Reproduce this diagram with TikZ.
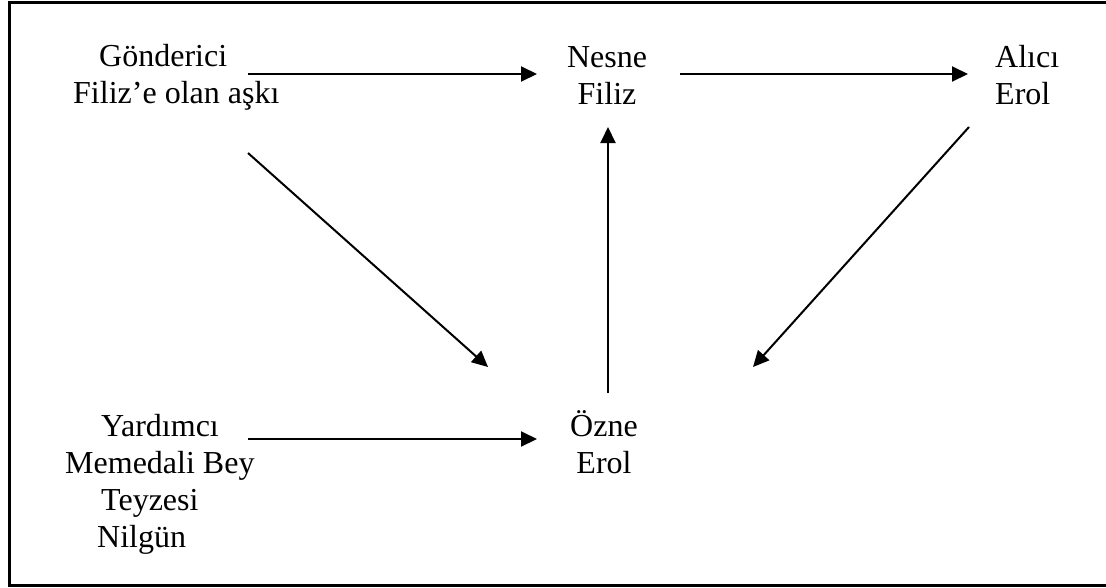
\documentclass[tikz,border=0pt]{standalone}
\usepackage{fontspec}
\setmainfont{Liberation Serif}
\usetikzlibrary{arrows.meta}

\tikzset{
  role/.style={inner sep=0pt, align=center, anchor=base,
    font=\fontsize{32}{37}\selectfont},
  leftrole/.style={role, align=left, anchor=base west},
  arr/.style={-{Triangle[length=16pt,width=15pt]}, line width=2pt}
}

\begin{document}
\begin{tikzpicture}[x=1pt,y=-1pt]
  \useasboundingbox (0,0) rectangle (1106,587);
  % frame, open on the right
  \draw[line width=3pt] (1120,2) -- (9,2) -- (9,585) -- (1120,585);

  % roles (base = last line)
  \node[leftrole] (gonderici) at (73,103) {\hspace*{26pt}Gönderici\\Filiz’e olan aşkı};
  \node[role] (nesne) at (607,104) {Nesne\\Filiz};
  \node[leftrole] (alici) at (995,104) {Alıcı\\Erol};
  \node[role] (ozne) at (604,473) {Özne\\Erol};
  \node[leftrole] (yardimci) at (65,547)
    {\hspace*{36pt}Yardımcı\\Memedali Bey\\\hspace*{36pt}Teyzesi\\\hspace*{32pt}Nilgün};

  % arrow ends
  \coordinate (g-out) at (248,74);
  \coordinate (n-in) at (537,74);
  \coordinate (n-out) at (680,74);
  \coordinate (a-in) at (968,74);
  \coordinate (g-diag) at (248,153);
  \coordinate (o-left) at (488,367);
  \coordinate (a-diag) at (969,127);
  \coordinate (o-right) at (753,367);
  \coordinate (y-out) at (248,439);
  \coordinate (o-in) at (537,439);
  \coordinate (o-up) at (608,393);
  \coordinate (n-down) at (608,127);

  \draw[arr] (g-out) -- (n-in);
  \draw[arr] (n-out) -- (a-in);
  \draw[arr] (g-diag) -- (o-left);
  \draw[arr] (a-diag) -- (o-right);
  \draw[arr] (y-out) -- (o-in);
  \draw[arr] (o-up) -- (n-down);
\end{tikzpicture}
\end{document}
